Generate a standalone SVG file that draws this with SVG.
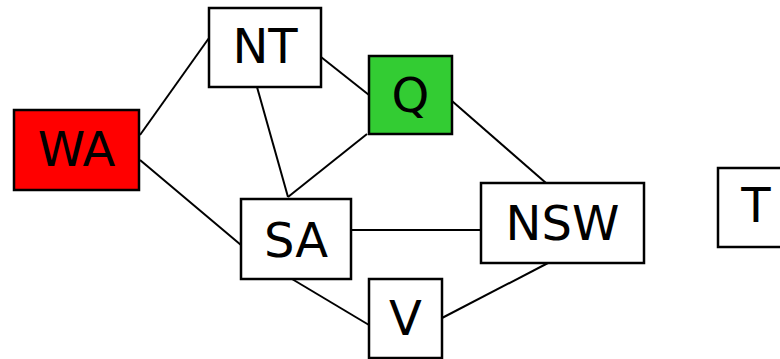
<svg xmlns="http://www.w3.org/2000/svg" width="780" height="359" viewBox="0 0 780 359">
<style>
.box{stroke:#000;stroke-width:2.5;fill:#fff}
.lbl{font-family:"Comic Sans MS","DejaVu Sans",sans-serif;font-size:48px;fill:#000;text-anchor:middle}
.edge{stroke:#000;stroke-width:2;fill:none}
</style>
<rect width="780" height="359" fill="#fff"/>
<g id="connectors">
<line class="edge" x1="140" y1="135" x2="209" y2="38"/>
<line class="edge" x1="140" y1="160" x2="241" y2="245"/>
<line class="edge" x1="257" y1="87" x2="288" y2="197"/>
<line class="edge" x1="321" y1="57" x2="369" y2="95"/>
<line class="edge" x1="367" y1="134" x2="288" y2="197"/>
<line class="edge" x1="452" y1="101" x2="546" y2="183"/>
<line class="edge" x1="351" y1="230" x2="481" y2="230"/>
<line class="edge" x1="292" y1="279" x2="369" y2="325"/>
<line class="edge" x1="442" y1="318" x2="548" y2="263"/>
</g>
<g id="WA"><rect class="box" x="14" y="110" width="125" height="80" style="fill:#ff0000"/><text class="lbl" x="76.5" y="166">WA</text></g>
<g id="NT"><rect class="box" x="209" y="8" width="112" height="79"/><text class="lbl" x="265" y="63">NT</text></g>
<g id="Q"><rect class="box" x="369" y="56" width="83" height="78" style="fill:#33cc33"/><text class="lbl" x="410.5" y="112">Q</text></g>
<g id="SA"><rect class="box" x="241" y="199" width="110" height="80"/><text class="lbl" x="296" y="257">SA</text></g>
<g id="NSW"><rect class="box" x="481" y="183" width="163" height="80"/><text class="lbl" x="562.5" y="240">NSW</text></g>
<g id="V"><rect class="box" x="369" y="279" width="73" height="79"/><text class="lbl" x="405.5" y="335">V</text></g>
<g id="T"><rect class="box" x="718" y="168" width="70" height="79"/><text class="lbl" x="756" y="222">T</text></g>
</svg>
